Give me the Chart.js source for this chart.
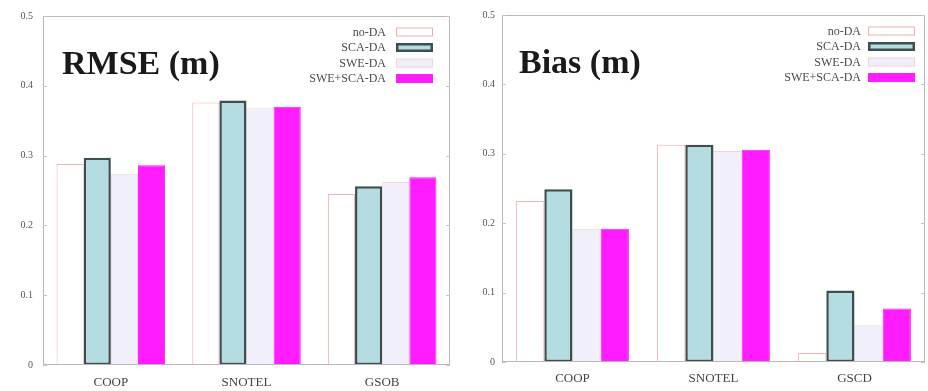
<!DOCTYPE html>
<html>
<head>
<meta charset="utf-8">
<script src="https://cdn.jsdelivr.net/npm/chart.js@4/dist/chart.umd.min.js"></script>
<style>
  html, body { margin: 0; padding: 0; background: #fff; }
  #wrap { position: relative; width: 928px; height: 391px; }
  canvas { position: absolute; top: 0; }
  #rmseChart { left: 0; }
  #biasChart { left: 464px; }
</style>
</head>
<body>
<div id="wrap">
  <canvas id="rmseChart" width="464" height="391"></canvas>
  <canvas id="biasChart" width="464" height="391"></canvas>
</div>
<script>
// Data
const rmseCategories = ['COOP', 'SNOTEL', 'GSOB'];
const biasCategories = ['COOP', 'SNOTEL', 'GSCD'];
const seriesLabels = ['no-DA', 'SCA-DA', 'SWE-DA', 'SWE+SCA-DA'];

const rmseNoDA = [0.288, 0.376, 0.245];
const rmseScaDA = [0.297, 0.379, 0.256];
const rmseSweDA = [0.274, 0.368, 0.262];
const rmseSweScaDA = [0.286, 0.370, 0.269];

const biasNoDA = [0.232, 0.313, 0.013];
const biasScaDA = [0.249, 0.313, 0.103];
const biasSweDA = [0.192, 0.304, 0.053];
const biasSweScaDA = [0.192, 0.306, 0.077];

const yTicks = [0, 0.1, 0.2, 0.3, 0.4, 0.5];

const serif = '"Liberation Serif", "DejaVu Serif", serif';

// bar styles, same order as seriesLabels
const barStyles = [
    { backgroundColor: '#ffffff', borderColor: '#efb2b2', borderWidth: 1 },
    { backgroundColor: '#b5dde1', borderColor: '#3f4d4d', borderWidth: 2.5 },
    { backgroundColor: '#f1eff9', borderColor: '#f5d3dc', borderWidth: 1 },
    { backgroundColor: '#ff1cff', borderColor: '#ff1cff', borderWidth: 1 }
];

function makeDatasets(lists) {
    return lists.map(function(values, i) {
        return Object.assign({
            label: seriesLabels[i],
            data: values,
            borderSkipped: false,
            categoryPercentage: 0.8,
            barPercentage: 1.0
        }, barStyles[i]);
    });
}

// frame, inside ticks, title and legend drawn on top of the chart
const decorPlugin = {
    id: 'decor',
    afterDatasetsDraw(chart, args, opts) {
        const ctx = chart.ctx;
        const a = chart.chartArea;
        const y = chart.scales.y;
        ctx.save();

        // frame
        ctx.strokeStyle = '#b8b8b8';
        ctx.lineWidth = 1;
        ctx.strokeRect(a.left + 0.5, a.top + 0.5, a.right - a.left - 1, a.bottom - a.top - 1);

        // inside ticks on both sides
        ctx.strokeStyle = '#c4c4c4';
        yTicks.forEach(function(v) {
            const py = Math.round(y.getPixelForValue(v)) + 0.5;
            ctx.beginPath();
            ctx.moveTo(a.left, py); ctx.lineTo(a.left + 4, py);
            ctx.moveTo(a.right, py); ctx.lineTo(a.right - 4, py);
            ctx.stroke();
        });

        // big title inside the plot
        ctx.fillStyle = '#1a1a1a';
        ctx.font = 'bold 34px ' + serif;
        ctx.textAlign = 'left';
        ctx.textBaseline = 'alphabetic';
        ctx.fillText(opts.title, opts.titleX, opts.titleY);

        // legend
        ctx.font = '12px ' + serif;
        ctx.textAlign = 'right';
        ctx.textBaseline = 'middle';
        chart.data.datasets.forEach(function(ds, i) {
            const ry = opts.legendY + i * 15.5;
            ctx.fillStyle = '#4a4a4a';
            ctx.fillText(ds.label, opts.legendTextX, ry + 0.5);
            ctx.fillStyle = ds.backgroundColor;
            ctx.fillRect(opts.swatchX, ry - 4.5, opts.swatchW, 9);
            ctx.strokeStyle = ds.borderColor;
            ctx.lineWidth = ds.borderWidth;
            const bw = ds.borderWidth;
            ctx.strokeRect(opts.swatchX + bw / 2, ry - 4.5 + bw / 2, opts.swatchW - bw, 9 - bw);
        });
        ctx.restore();
    }
};

function makeChart(canvasId, categories, lists, layout) {
    return new Chart(document.getElementById(canvasId), {
        type: 'bar',
        data: {
            labels: categories,
            datasets: makeDatasets(lists)
        },
        plugins: [decorPlugin],
        options: {
            responsive: false,
            animation: false,
            layout: { padding: { top: 15, right: layout.padRight, left: 0, bottom: 0 } },
            plugins: {
                legend: { display: false },
                tooltip: { enabled: false },
                decor: layout.decor
            },
            scales: {
                x: {
                    grid: { display: false, drawTicks: false },
                    border: { display: false },
                    ticks: {
                        padding: layout.xPad,
                        color: '#444',
                        font: { family: serif, size: 13 }
                    },
                    afterFit: function(scale) { scale.height = layout.xHeight; }
                },
                y: {
                    min: 0,
                    max: 0.5,
                    grid: { display: false, drawTicks: false },
                    border: { display: false },
                    afterBuildTicks: function(scale) {
                        scale.ticks = yTicks.map(function(v) { return { value: v }; });
                    },
                    ticks: {
                        padding: layout.yPad,
                        color: '#555',
                        font: { family: serif, size: 10 },
                        callback: function(v) { return String(v); }
                    },
                    afterFit: function(scale) { scale.width = layout.yWidth; }
                }
            }
        }
    });
}

makeChart('rmseChart', rmseCategories,
    [rmseNoDA, rmseScaDA, rmseSweDA, rmseSweScaDA],
    {
        padRight: 14, xHeight: 26, yWidth: 43, xPad: 10, yPad: 10,
        decor: {
            title: 'RMSE (m)', titleX: 62, titleY: 74,
            legendTextX: 386, swatchX: 396, swatchW: 37, legendY: 32
        }
    });

makeChart('biasChart', biasCategories,
    [biasNoDA, biasScaDA, biasSweDA, biasSweScaDA],
    {
        padRight: 3, xHeight: 29, yWidth: 38, xPad: 9, yPad: 7,
        decor: {
            title: 'Bias (m)', titleX: 55, titleY: 73,
            legendTextX: 397, swatchX: 404, swatchW: 47, legendY: 31
        }
    });
</script>
</body>
</html>
